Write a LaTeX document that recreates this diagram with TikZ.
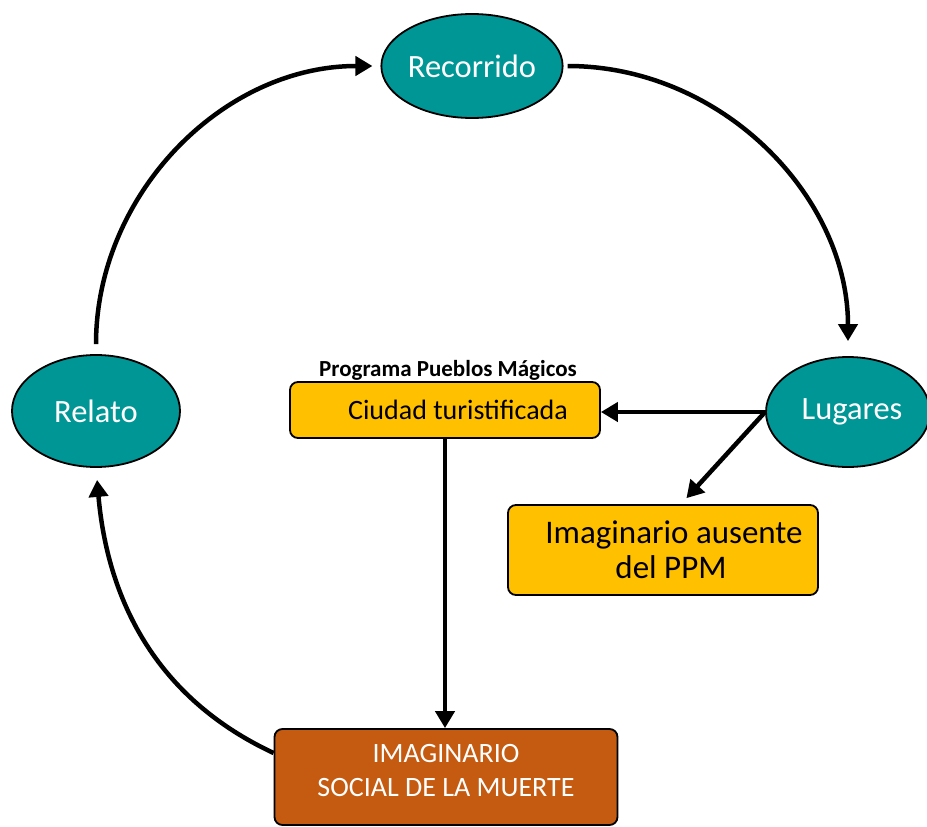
\documentclass[tikz,border=0pt]{standalone}
\usepackage{fontspec}
\setmainfont{Carlito}
\usetikzlibrary{shapes.geometric,arrows.meta,positioning}
\definecolor{verde}{RGB}{0,150,150}
\definecolor{amarillo}{RGB}{255,192,0}
\definecolor{naranja}{RGB}{197,90,17}

\begin{document}
\begin{tikzpicture}[x=1pt,y=-1pt,
		elipse/.style={ellipse,draw=black,line width=1.8pt,fill=verde,text=white,inner sep=0pt,font=\fontsize{32.5}{38}\selectfont},
		caja/.style={rectangle,rounded corners=8pt,draw=black,line width=1.8pt,fill=amarillo,inner sep=0pt,align=center},
		flecha/.style={line width=4.5pt,-{Triangle[length=17pt,width=19pt]}}]
		
		\useasboundingbox (0,0) rectangle (927,827);
		
		% Elipses del ciclo
		\node[elipse,minimum width=170pt,minimum height=104pt] (recorrido) at (472,66) {Recorrido};
		\node[elipse,minimum width=168pt,minimum height=112pt] (relato) at (96,411) {Relato};
		\node[elipse,minimum width=164pt,minimum height=110pt] (lugares) at (848,412) {\hspace*{8pt}Lugares};
		
		% Cajas
		\node[caja,minimum width=310pt,minimum height=56pt,font=\fontsize{28}{33}\selectfont] (ciudad) at (445,410) {\hspace*{26pt}Ciudad turistificada};
		\node[font=\bfseries\fontsize{23}{27}\selectfont,above=-3pt of ciudad,xshift=3pt] (ppm) {Programa Pueblos Mágicos};
		\node[caja,minimum width=310pt,minimum height=90pt,font=\fontsize{33}{35}\selectfont] (ausente) at (663,550) {\hspace*{22pt}Imaginario ausente\\\hspace*{16pt}del PPM};
		\node[caja,fill=naranja,minimum width=343pt,minimum height=96pt,
			label={[text=white,align=center,yshift=6pt,font=\fontsize{28}{34}\selectfont]center:IMAGINARIO\\SOCIAL DE LA MUERTE}] (muerte) at (446,777) {};
		
		% Flechas
		\draw[flecha,shorten <=10pt,shorten >=8pt] (relato.north) to[out=90,in=180] (recorrido.west);
		\draw[flecha,shorten <=4pt,shorten >=15pt] (recorrido.east) to[out=0,in=90] (lugares.north);
		\draw[flecha] (lugares.west) -- (lugares.west -| ciudad.east);
		\draw[flecha,shorten >=8pt] (lugares.west) -- ([xshift=18pt]ausente.north);
		\draw[flecha] (ciudad.south) -- (ciudad.south |- muerte.north);
		\draw[flecha,shorten >=12pt] ([yshift=24pt]muerte.west) to[out=155,in=-85] (relato.south);
	\end{tikzpicture}
\end{document}
